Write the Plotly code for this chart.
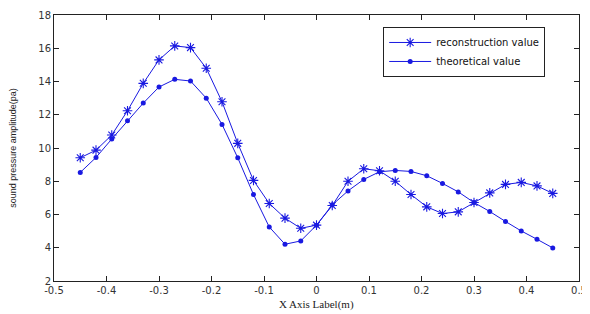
import plotly.graph_objects as go

x_vals = [-0.45, -0.42, -0.39, -0.36, -0.33, -0.30, -0.27, -0.24, -0.21, -0.18, -0.15,
          -0.12, -0.09, -0.06, -0.03, 0.0, 0.03, 0.06, 0.09, 0.12, 0.15, 0.18, 0.21,
          0.24, 0.27, 0.30, 0.33, 0.36, 0.39, 0.42, 0.45]
reconstruction = [9.41, 9.87, 10.78, 12.24, 13.89, 15.30, 16.14, 16.04, 14.8, 12.78, 10.28,
                  8.05, 6.66, 5.78, 5.17, 5.36, 6.54, 8.0, 8.75, 8.63, 8.0, 7.2, 6.46,
                  6.06, 6.16, 6.72, 7.3, 7.81, 7.93, 7.72, 7.27]
theoretical = [8.53, 9.43, 10.54, 11.64, 12.70, 13.67, 14.13, 14.03, 13.0, 11.42, 9.41,
               7.2, 5.25, 4.21, 4.41, 5.36, 6.58, 7.42, 8.11, 8.57, 8.65, 8.59, 8.33,
               7.87, 7.36, 6.72, 6.18, 5.58, 5.01, 4.51, 3.99]
x_ticks = [-0.5, -0.4, -0.3, -0.2, -0.1, 0, 0.1, 0.2, 0.3, 0.4, 0.5]
x_tick_text = ["-0.5", "-0.4", "-0.3", "-0.2", "-0.1", "0", "0.1", "0.2", "0.3", "0.4", "0.5"]
y_ticks = [2, 4, 6, 8, 10, 12, 14, 16, 18]

blue = "rgb(25,25,225)"
fig = go.Figure()
fig.add_trace(go.Scatter(x=x_vals, y=reconstruction, mode="lines+markers",
                         name="reconstruction value",
                         line=dict(color=blue, width=1),
                         marker=dict(symbol="asterisk-open", size=8,
                                     line=dict(color=blue, width=1.1))))
fig.add_trace(go.Scatter(x=x_vals, y=theoretical, mode="lines+markers",
                         name="theoretical value",
                         line=dict(color=blue, width=1),
                         marker=dict(symbol="circle", size=5, color=blue)))

tick_font = dict(family="DejaVu Sans", size=10, color="#333")
axis_common = dict(showline=True, linecolor="#222", linewidth=1, mirror="ticks",
                   ticks="inside", ticklen=5, tickcolor="#222", showgrid=False,
                   zeroline=False, tickfont=tick_font, automargin=False)
# page body adds an 8px offset, so the figure is sized to fill the remaining window
fig.update_layout(
    width=582, height=306,
    margin=dict(l=46, r=11, t=7, b=33),
    paper_bgcolor="white", plot_bgcolor="white",
    showlegend=True,
    legend=dict(x=0.627, y=0.955, xanchor="left", yanchor="top",
                bordercolor="#222", borderwidth=1, bgcolor="white",
                font=dict(family="DejaVu Sans", size=10, color="#111"),
                itemwidth=42, tracegroupgap=0),
    xaxis=dict(range=[-0.5, 0.5], tickvals=x_ticks, ticktext=x_tick_text,
               **axis_common),
    yaxis=dict(range=[2, 18], tickvals=y_ticks,
               title=dict(text="sound pressure amplitude(pa)", standoff=23,
                          font=dict(family="Liberation Sans Narrow, Liberation Sans", size=9, color="#222")),
               **axis_common),
    annotations=[dict(text="X Axis Label(m)", xref="paper", yref="paper", x=0.5, y=0,
                      xanchor="center", yanchor="middle", yshift=-23, showarrow=False,
                      font=dict(family="Liberation Serif", size=11, color="#222"))],
)
fig.write_html("out.html")
